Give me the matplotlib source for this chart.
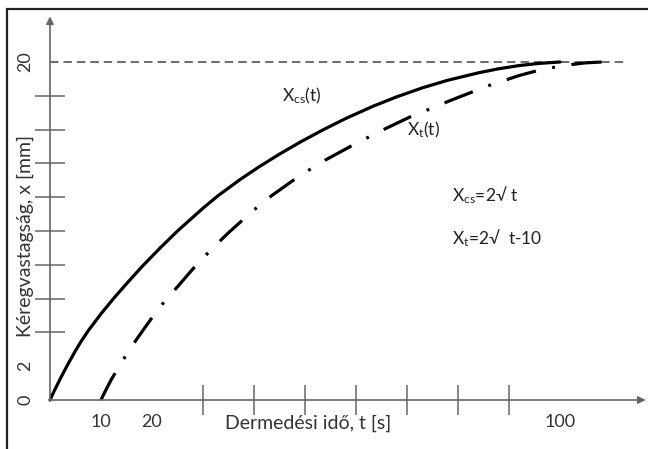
import matplotlib
matplotlib.use("Agg")
import matplotlib.pyplot as plt
from matplotlib.patches import Rectangle

plt.rcParams['font.family'] = ['Lato', 'DejaVu Sans']
plt.rcParams['mathtext.fontset'] = 'custom'
plt.rcParams['mathtext.rm'] = 'Lato'
plt.rcParams['mathtext.it'] = 'Lato:italic'

# values
t_cs = [0, 0.5, 1, 2, 3.3, 5, 6, 7.5, 10, 12.5, 15, 18, 21.6, 25, 30, 33, 37.3, 41, 45, 49,
        53.5, 58, 63.4, 68, 73, 78, 84.3, 88, 92, 96, 100]
x_cs = [0, 0.33, 0.64, 1.25, 2.0, 2.92, 3.42, 4.1, 5.1, 6.02, 6.88, 7.88, 9.0, 10.0, 11.35, 12.1,
        13.05, 13.8, 14.55, 15.25, 15.98, 16.66, 17.39, 17.94, 18.47, 18.92, 19.38, 19.6, 19.79,
        19.92, 20.0]

t_t = [10, 10.5, 11, 12, 13.4, 15, 17, 20.3, 22.5, 25, 28, 31.6, 35, 40, 43.5, 47.7, 51, 54,
       59.2, 62.1, 65.4, 70.6, 73.9, 77.1, 80, 83, 86, 89.5, 92, 95.1, 98.7, 102.3, 105, 108.2]
x_t = [0, 0.32, 0.62, 1.2, 1.9, 2.7, 3.6, 5.0, 5.85, 6.7, 7.75, 8.9, 9.9, 11.25, 12.1, 13.0, 13.65,
       14.2, 15.05, 15.5, 16.0, 16.75, 17.15, 17.55, 17.9, 18.25, 18.6, 18.95, 19.2, 19.45, 19.68,
       19.85, 19.95, 20.0]

x_limit = 20
x_ticks = [10, 20, 30, 40, 50, 60, 70, 80, 90, 100]
x_labels = ['10', '20', '100']
x_label_pos = [10, 20, 100]
y_ticks = [2, 4, 6, 8, 10, 12, 14, 16, 18]
y_labels = ['0', '2', '20']
y_label_pos = [0, 2, 20]

xmax, ymax = 117, 23
fig = plt.figure(figsize=(6.48, 4.49), dpi=100)
ax = fig.add_axes([50/648, 49/449, 5.1*xmax/648, 16.9*ymax/449])
ax.set_xlim(0, xmax)
ax.set_ylim(0, ymax)
for s in ax.spines.values():
    s.set_visible(False)

axc = '#666666'
ax.annotate('', xy=(116.8, 0), xytext=(0, 0),
            arrowprops=dict(arrowstyle='-|>', color=axc, lw=1.2, mutation_scale=11,
                            shrinkA=0, shrinkB=0), annotation_clip=False)
ax.annotate('', xy=(0, 22.7), xytext=(0, 0),
            arrowprops=dict(arrowstyle='-|>', color=axc, lw=1.2, mutation_scale=11,
                            shrinkA=0, shrinkB=0), annotation_clip=False)

ax.axhline(x_limit, xmax=113/xmax, color='#444444', lw=1.1, linestyle=(0, (5.5, 3.3)))
ax.plot(t_cs, x_cs, color='black', lw=2.3, clip_on=False, solid_capstyle='round',
        solid_joinstyle='round')
ax.plot(t_t, x_t, color='black', lw=2.3, clip_on=False, linestyle=(0, (9.5, 5.2, 0.9, 5.2)))

ax.set_xticks(x_label_pos)
ax.set_xticklabels(x_labels)
ax.set_xticks(x_ticks, minor=True)
ax.set_yticks(y_label_pos)
ax.set_yticklabels(y_labels, rotation=90, va='center')
ax.set_yticks(y_ticks, minor=True)
ax.tick_params(which='major', length=0, labelsize=13, labelcolor='#333333')
ax.tick_params(axis='x', which='major', pad=10)
ax.tick_params(axis='y', which='major', pad=12)
ax.tick_params(which='minor', direction='inout', length=21, width=1.1, color=axc)

ax.text(50.6, -1.36, 'Dermedési idő, t [s]', ha='center', va='center', fontsize=14,
        color='#333333', clip_on=False)
ax.text(-4.9, 9.7, 'Kéregvastagság, x [mm]', ha='center', va='center', rotation=90,
        fontsize=14, color='#333333', clip_on=False)

ax.text(45.5, 18.0, r'X$_{\mathrm{cs}}$(t)', ha='left', va='center', fontsize=12.5, color='#222222')
ax.text(70, 16.0, r'X$_{\mathrm{t}}$(t)', ha='left', va='center', fontsize=12.5, color='#222222')
ax.text(78.8, 12.1, r'X$_{\mathrm{cs}}$=2√ t', ha='left', va='center', fontsize=12.5, color='#222222')
ax.text(78.8, 9.6, r'X$_{\mathrm{t}}$=2√  t-10', ha='left', va='center', fontsize=12.5, color='#222222')

fig.patches.append(Rectangle((7/648, -0.1), 2, (449-9)/449 + 0.1, transform=fig.transFigure,
                             fill=False, lw=1.6, ec='#222222'))

fig.savefig('out.png', dpi=100)
